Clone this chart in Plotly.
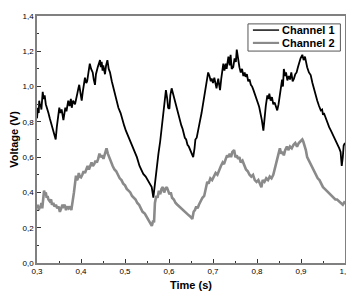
import plotly.graph_objects as go

ch1_t = [0.300,0.302,0.304,0.305,0.307,0.308,0.310,0.312,0.313,0.315,0.3175,0.320,0.323,0.326,0.329,0.332,0.335,0.338,0.3425,0.345,0.348,0.3507,0.353,0.356,0.360,0.362,0.3643,0.367,0.371,0.374,0.377,0.379,0.382,0.3864,0.389,0.3916,0.394,0.396,0.399,0.4016,0.404,0.407,0.409,0.412,0.414,0.417,0.420,0.423,0.4266,0.429,0.4318,0.434,0.4357,0.438,0.4432,0.445,0.447,0.449,0.4507,0.4545,0.457,0.460,0.463,0.466,0.470,0.474,0.478,0.481,0.485,0.490,0.494,0.498,0.502,0.507,0.511,0.515,0.520,0.527,0.533,0.5416,0.547,0.553,0.5607,0.5644,0.568,0.572,0.576,0.580,0.584,0.587,0.590,0.593,0.596,0.598,0.601,0.603,0.606,0.609,0.612,0.614,0.617,0.620,0.623,0.625,0.628,0.631,0.634,0.636,0.639,0.642,0.645,0.648,0.652,0.655,0.658,0.660,0.663,0.666,0.670,0.674,0.677,0.680,0.683,0.686,0.689,0.692,0.695,0.697,0.700,0.703,0.706,0.708,0.710,0.712,0.714,0.716,0.719,0.7235,0.726,0.729,0.731,0.733,0.735,0.738,0.740,0.7425,0.746,0.749,0.752,0.754,0.757,0.760,0.763,0.766,0.769,0.772,0.774,0.777,0.780,0.783,0.786,0.789,0.792,0.795,0.797,0.800,0.803,0.805,0.808,0.811,0.8145,0.817,0.820,0.8235,0.826,0.828,0.831,0.834,0.837,0.840,0.843,0.846,0.849,0.852,0.854,0.857,0.859,0.861,0.864,0.866,0.869,0.872,0.875,0.878,0.881,0.884,0.887,0.890,0.893,0.896,0.899,0.903,0.906,0.909,0.912,0.914,0.918,0.922,0.926,0.930,0.933,0.937,0.941,0.945,0.948,0.950,0.952,0.956,0.960,0.964,0.968,0.972,0.975,0.979,0.983,0.987,0.990,0.9926,0.995,0.997,1.000]
ch1_v = [0.82,0.88,0.85,0.92,0.89,0.90,0.87,0.95,0.97,0.93,0.95,0.90,0.88,0.85,0.82,0.79,0.77,0.74,0.70,0.77,0.83,0.88,0.85,0.87,0.81,0.85,0.88,0.86,0.92,0.89,0.93,0.88,0.92,0.90,0.94,0.96,0.99,1.01,0.96,0.92,0.97,1.01,1.05,1.02,1.03,1.08,1.13,1.10,1.08,1.04,1.01,1.07,1.09,1.11,1.15,1.11,1.14,1.09,1.12,1.07,1.12,1.15,1.10,1.08,1.03,0.99,0.95,0.93,0.88,0.85,0.81,0.78,0.75,0.72,0.70,0.67,0.64,0.60,0.55,0.505,0.49,0.46,0.43,0.37,0.46,0.54,0.62,0.69,0.77,0.85,0.92,0.98,0.93,0.88,0.875,0.95,0.99,0.96,0.93,0.92,0.88,0.86,0.83,0.81,0.78,0.76,0.73,0.71,0.70,0.67,0.66,0.64,0.62,0.60,0.65,0.70,0.71,0.76,0.80,0.85,0.90,0.95,1.00,1.04,1.08,1.06,1.03,1.045,1.02,1.05,1.00,0.99,1.02,1.045,1.01,0.98,1.05,1.13,1.09,1.13,1.10,1.14,1.17,1.12,1.18,1.10,1.11,1.16,1.14,1.21,1.15,1.11,1.08,1.10,1.06,1.08,1.055,1.07,1.03,1.04,1.01,1.00,0.98,0.96,0.95,0.92,0.90,0.884,0.85,0.81,0.75,0.83,0.89,0.95,0.93,0.96,0.92,0.94,0.90,0.91,0.88,0.865,0.90,0.95,1.00,1.04,1.00,1.10,1.06,1.08,1.035,1.06,1.04,1.08,1.03,1.045,1.07,1.08,1.11,1.14,1.16,1.18,1.15,1.17,1.13,1.11,1.08,1.065,1.02,0.98,0.95,0.92,0.89,0.865,0.87,0.84,0.85,0.82,0.79,0.77,0.75,0.73,0.713,0.69,0.67,0.65,0.63,0.55,0.60,0.666,0.68]

ch2_t = [0.300,0.302,0.304,0.306,0.308,0.310,0.312,0.314,0.316,0.318,0.320,0.322,0.324,0.326,0.329,0.332,0.334,0.337,0.340,0.343,0.346,0.349,0.352,0.355,0.358,0.360,0.363,0.366,0.369,0.372,0.375,0.378,0.381,0.384,0.3886,0.391,0.393,0.395,0.397,0.400,0.403,0.406,0.409,0.412,0.415,0.418,0.421,0.424,0.427,0.430,0.433,0.436,0.439,0.442,0.445,0.448,0.451,0.455,0.458,0.461,0.464,0.468,0.472,0.476,0.480,0.484,0.488,0.492,0.496,0.500,0.504,0.508,0.512,0.516,0.520,0.524,0.528,0.532,0.536,0.540,0.545,0.550,0.555,0.558,0.561,0.564,0.566,0.568,0.571,0.574,0.577,0.580,0.583,0.586,0.589,0.592,0.595,0.598,0.601,0.604,0.607,0.611,0.615,0.619,0.623,0.627,0.631,0.635,0.640,0.645,0.650,0.653,0.656,0.659,0.662,0.665,0.668,0.672,0.676,0.680,0.684,0.687,0.690,0.694,0.698,0.702,0.706,0.710,0.714,0.718,0.722,0.725,0.729,0.732,0.735,0.738,0.741,0.744,0.748,0.751,0.754,0.757,0.760,0.763,0.767,0.771,0.775,0.779,0.783,0.787,0.791,0.795,0.799,0.803,0.807,0.810,0.813,0.817,0.821,0.825,0.829,0.833,0.837,0.841,0.845,0.849,0.852,0.855,0.858,0.861,0.864,0.868,0.871,0.875,0.879,0.883,0.887,0.891,0.895,0.899,0.903,0.905,0.908,0.911,0.914,0.918,0.922,0.926,0.930,0.934,0.938,0.942,0.946,0.950,0.954,0.958,0.962,0.966,0.970,0.974,0.978,0.982,0.986,0.990,0.995,1.000]
ch2_v = [0.31,0.33,0.30,0.32,0.31,0.34,0.31,0.36,0.41,0.39,0.40,0.37,0.38,0.36,0.35,0.36,0.33,0.34,0.32,0.33,0.31,0.32,0.29,0.31,0.33,0.32,0.33,0.30,0.32,0.31,0.32,0.30,0.34,0.40,0.495,0.47,0.48,0.51,0.49,0.485,0.50,0.52,0.51,0.53,0.55,0.53,0.55,0.57,0.55,0.56,0.58,0.57,0.59,0.62,0.60,0.61,0.59,0.63,0.65,0.62,0.60,0.57,0.55,0.53,0.52,0.50,0.48,0.47,0.45,0.44,0.42,0.41,0.40,0.38,0.37,0.36,0.34,0.33,0.31,0.29,0.28,0.26,0.24,0.23,0.21,0.24,0.23,0.34,0.38,0.37,0.41,0.39,0.42,0.43,0.40,0.42,0.43,0.41,0.39,0.40,0.37,0.36,0.34,0.33,0.32,0.31,0.30,0.29,0.28,0.27,0.26,0.25,0.29,0.30,0.32,0.31,0.33,0.35,0.37,0.38,0.42,0.46,0.45,0.48,0.47,0.49,0.51,0.50,0.53,0.55,0.57,0.56,0.59,0.61,0.60,0.62,0.60,0.63,0.64,0.60,0.61,0.59,0.60,0.57,0.58,0.55,0.53,0.52,0.50,0.49,0.50,0.47,0.46,0.47,0.45,0.43,0.47,0.46,0.48,0.47,0.49,0.48,0.50,0.54,0.57,0.61,0.65,0.62,0.63,0.61,0.64,0.66,0.64,0.66,0.65,0.67,0.68,0.66,0.68,0.69,0.70,0.69,0.67,0.64,0.60,0.58,0.56,0.54,0.52,0.50,0.48,0.47,0.45,0.43,0.42,0.41,0.40,0.39,0.38,0.37,0.36,0.36,0.35,0.34,0.33,0.35]

series_names = ["Channel 1", "Channel 2"]
x_ticks = [0.3, 0.4, 0.5, 0.6, 0.7, 0.8, 0.9, 1.0]
x_labels = ["0,3", "0,4", "0,5", "0,6", "0,7", "0,8", "0,9", "1,0"]
y_ticks = [0.0, 0.2, 0.4, 0.6, 0.8, 1.0, 1.2, 1.4]
y_labels = ["0,0", "0,2", "0,4", "0,6", "0,8", "1,0", "1,2", "1,4"]

FONT = "Liberation Sans, Arial, sans-serif"
colors = ["#000000", "#8a8a8a"]
widths = [1.8, 2.6]

fig = go.Figure()
fig.add_trace(go.Scatter(x=ch1_t, y=ch1_v, mode="lines", name=series_names[0],
                         line=dict(color=colors[0], width=widths[0]), showlegend=False))
fig.add_trace(go.Scatter(x=ch2_t, y=ch2_v, mode="lines", name=series_names[1],
                         line=dict(color=colors[1], width=widths[1]), showlegend=False))

axis_common = dict(showline=True, linecolor="#808080", linewidth=1.5, mirror=True,
                   ticks="inside", ticklen=4, tickcolor="#333333", tickwidth=1,
                   showgrid=False, zeroline=False, ticklabeloverflow="allow", automargin=False,
                   tickfont=dict(family=FONT, size=8, color="#000000"))

fig.update_xaxes(range=[0.3, 1.0], tickvals=x_ticks, ticktext=x_labels,
                 minor=dict(ticks="inside", ticklen=2, dtick=0.05, tick0=0.3, tickcolor="#333333"),
                 title=dict(text="<b>Time (s)</b>", font=dict(family=FONT, size=11, color="#000"), standoff=6),
                 **axis_common)
fig.update_yaxes(range=[0, 1.4], tickvals=y_ticks, ticktext=y_labels,
                 minor=dict(ticks="inside", ticklen=2, dtick=0.1, tick0=0, tickcolor="#333333"),
                 title=dict(text="<b>Voltage (V)</b>", font=dict(family=FONT, size=11, color="#000"), standoff=2),
                 **axis_common)

# manual legend box
shapes = [dict(type="rect", xref="paper", yref="paper", x0=0.685, x1=0.985, y0=0.858, y1=0.968,
               line=dict(color="#555555", width=1), fillcolor="white", layer="above")]
legend_y = [0.943, 0.891]
annotations = []
for name, c, w, ly in zip(series_names, colors, widths, legend_y):
    shapes.append(dict(type="line", xref="paper", yref="paper", x0=0.701, x1=0.786, y0=ly, y1=ly,
                       line=dict(color=c, width=w - 0.4), layer="above"))
    annotations.append(dict(xref="paper", yref="paper", x=0.790, y=ly, xanchor="left", yanchor="middle",
                            text="<b>%s</b>" % name, showarrow=False,
                            font=dict(family=FONT, size=11, color="#000")))

# the page body has an 8px default margin, so the figure is sized to the visible area
fig.update_layout(
    width=346, height=287,
    margin=dict(l=29, r=9, t=8, b=32, autoexpand=False),
    paper_bgcolor="white", plot_bgcolor="white",
    showlegend=False,
    shapes=shapes, annotations=annotations,
)

fig.write_html("out.html")
